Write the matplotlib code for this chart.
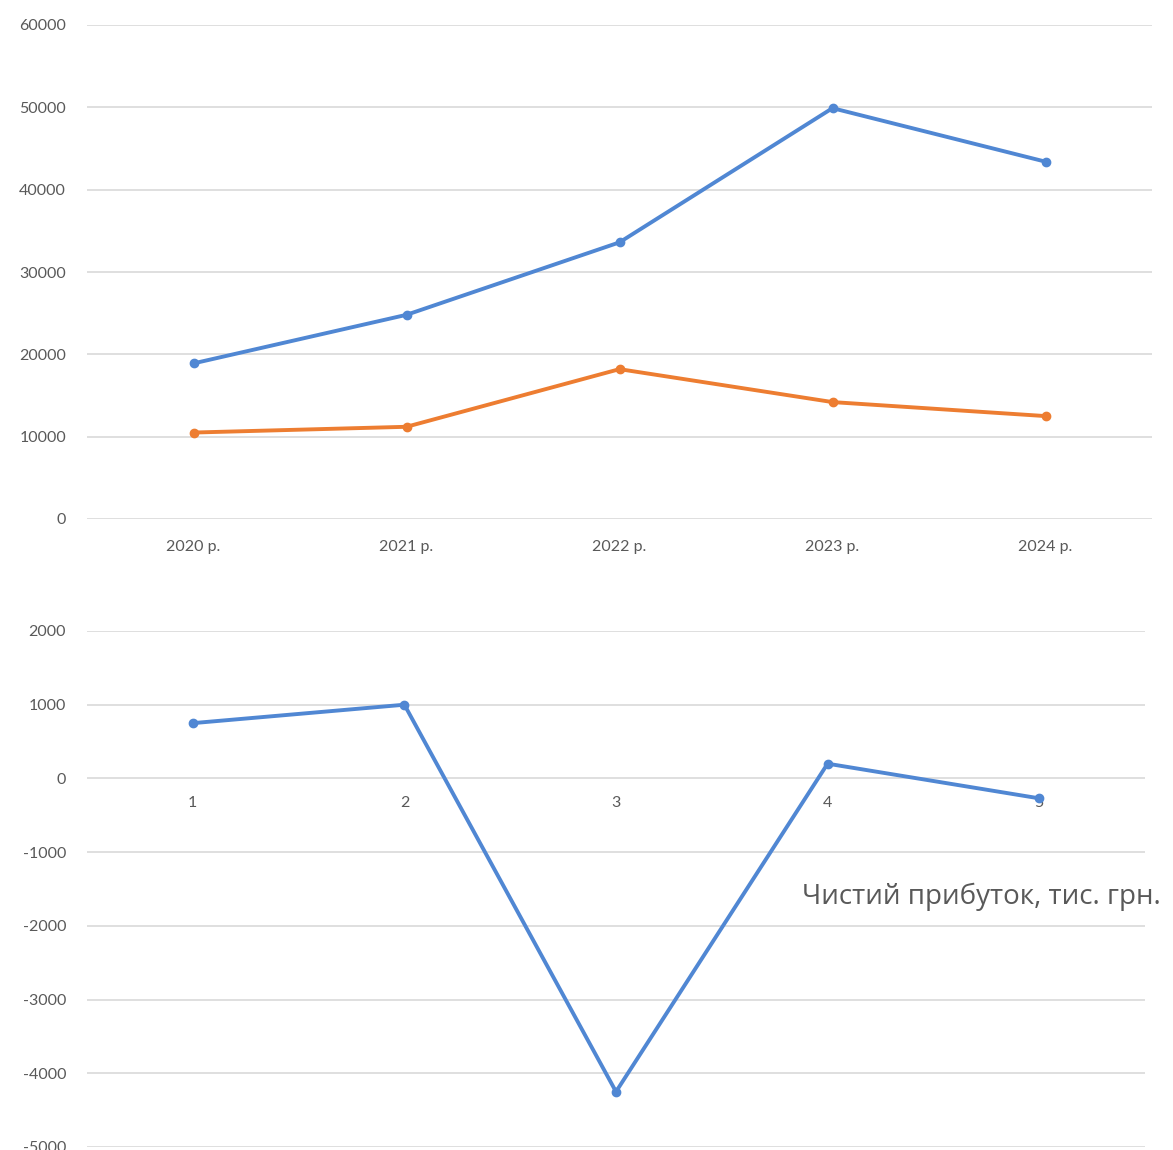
import matplotlib
matplotlib.use("Agg")
import matplotlib.pyplot as plt

years = ["2020 р.", "2021 р.", "2022 р.", "2023 р.", "2024 р."]
series_blue = [18900, 24800, 33600, 49900, 43400]
series_orange = [10500, 11200, 18200, 14200, 12500]
top_yticks = [0, 10000, 20000, 30000, 40000, 50000, 60000]

periods = ["1", "2", "3", "4", "5"]
net_profit = [750, 1000, -4250, 200, -270]
bottom_yticks = [-5000, -4000, -3000, -2000, -1000, 0, 1000, 2000]

BLUE = "#5087D3"
ORANGE = "#ED7D31"
GRID = "#D9D9D9"
TXT = "#595959"
plt.rcParams['font.family'] = ['Lato', 'DejaVu Sans']

W, H = 1173, 1150
fig = plt.figure(figsize=(W / 100, H / 100), dpi=100)

def fx(px):
    return px / W

def fy(py):
    return 1 - py / H

# top chart
ax1 = fig.add_axes([fx(87), fy(519), fx(1152 - 87), fy(25) - fy(519)])
x = list(range(len(years)))
ax1.plot(x, series_blue, color=BLUE, lw=2.8, marker='o', ms=6, zorder=3)
ax1.plot(x, series_orange, color=ORANGE, lw=2.8, marker='o', ms=6, zorder=3)
ax1.set_xlim(-0.5, len(years) - 0.5)
ax1.set_ylim(0, 60000)
ax1.set_yticks(top_yticks)
ax1.set_yticklabels([str(v) for v in top_yticks])
ax1.set_xticks(x)
ax1.set_xticklabels(years)
ax1.grid(axis='y', color=GRID, lw=1.2)
ax1.set_axisbelow(True)
for s in ax1.spines.values():
    s.set_visible(False)
ax1.tick_params(axis='both', length=0, colors=TXT, labelsize=11.5)
ax1.tick_params(axis='x', pad=15)
ax1.tick_params(axis='y', pad=15)

# bottom chart
ax2 = fig.add_axes([fx(87), fy(1147), fx(1145 - 87), fy(631) - fy(1147)])
x2 = list(range(len(periods)))
ax2.plot(x2, net_profit, color=BLUE, lw=2.8, marker='o', ms=6, zorder=3)
ax2.set_xlim(-0.5, len(periods) - 0.5)
ax2.set_ylim(-5000, 2000)
ax2.set_yticks(bottom_yticks)
ax2.set_yticklabels([str(v) for v in bottom_yticks])
ax2.set_xticks(x2)
ax2.set_xticklabels(periods)
ax2.spines['bottom'].set_position(('data', 0))
ax2.grid(axis='y', color=GRID, lw=1.2)
ax2.set_axisbelow(True)
for s in ax2.spines.values():
    s.set_visible(False)
ax2.tick_params(axis='both', length=0, colors=TXT, labelsize=11.5)
ax2.tick_params(axis='x', pad=13)
ax2.tick_params(axis='y', pad=15)

fig.text(fx(802), fy(897), "Чистий прибуток, тис. грн.", fontsize=20,
         color=TXT, ha='left', va='center', family=['Open Sans', 'DejaVu Sans'])

fig.savefig("out.png", dpi=100, facecolor='white')
